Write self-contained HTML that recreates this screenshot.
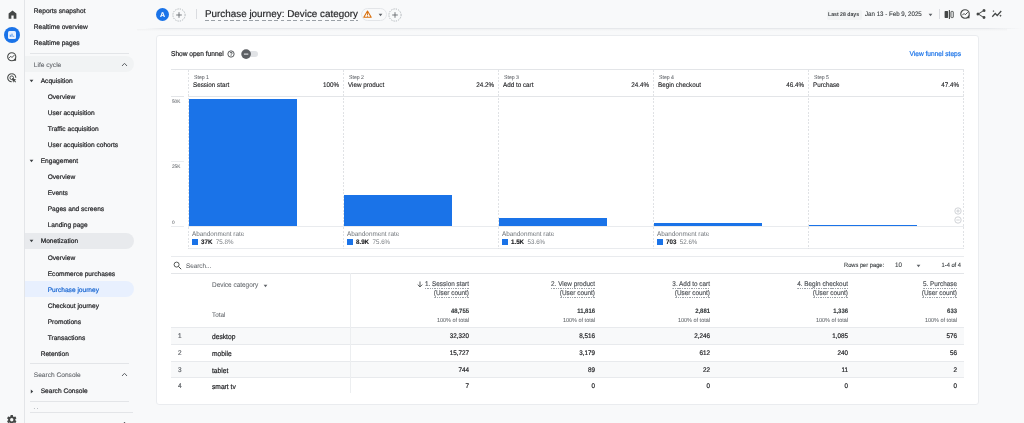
<!DOCTYPE html>
<html lang="en">
<head>
<meta charset="utf-8">
<title>Purchase journey: Device category</title>
<style>
*{box-sizing:border-box;margin:0;padding:0}
html,body{width:1024px;height:423px;overflow:hidden;background:#f8f9fa}
body{position:relative;font-family:"Liberation Sans",sans-serif;color:#202124}
.a{position:absolute}
.t{position:absolute;white-space:nowrap;line-height:12px;height:12px;font-size:6.6px;color:#202124;text-rendering:geometricPrecision;transform:scaleX(0.94);transform-origin:0 50%;-webkit-text-stroke:0.12px}
.r{text-align:right;transform-origin:100% 50%}
.n{transform:none}
#rail{left:0;top:0;width:25px;height:423px;background:#f8f9fa;border-right:1px solid #e3e5e8}
.nav{font-size:6.6px;color:#202124;-webkit-text-stroke:0.2px;transform:none}
.sec{color:#5f6368;-webkit-text-stroke:0.080px}
.pill{position:absolute;left:25px;width:109px;height:16px;border-radius:0 8px 8px 0}
.hr{position:absolute;height:1px;background:#e3e5e8}
.vr{position:absolute;width:1px;background:#e3e5e8}
#card{left:156px;top:35px;width:823px;height:370px;background:#fff;border:1px solid #eaecef;border-radius:3px}
.bar{position:absolute;background:#1a73e8}
.dv{position:absolute;width:1px;background:repeating-linear-gradient(180deg,#e0e2e5 0,#e0e2e5 2px,transparent 2px,transparent 3.500px)}
.g{color:#5f6368;-webkit-text-stroke:0.050px}
.b{font-weight:bold}
.h{color:#4d5156;-webkit-text-stroke:0.150px}
.u{background:repeating-linear-gradient(90deg,#9aa0a6 0,#9aa0a6 1.500px,transparent 1.500px,transparent 2.500px) 0 100%/100% 1px no-repeat;padding-bottom:1.500px}
</style>
</head>
<body>
<div id="root" style="position:absolute;left:0;top:0;width:1024px;height:423px;will-change:transform">
<!-- RAIL -->
<div id="rail" class="a"></div>
<svg class="a" style="left:6.500px;top:8.500px" width="11" height="11" viewBox="0 0 24 24"><path d="M3.500 21V9.800l8.500-6.800 8.500 6.800V21h-6v-7h-5v7z" fill="#444746"/></svg>
<div class="a" style="left:4px;top:27px;width:16px;height:16px;border-radius:50%;background:#1a73e8"></div>
<div class="a" style="left:8px;top:31px;width:8px;height:8px;border-radius:1.500px;background:#e8f0fe"></div>
<svg class="a" style="left:8px;top:31px" width="8" height="8" viewBox="0 0 9 9"><path d="M2.600 4.200v2.300M4.500 3v3.500M6.400 5.400v1.100" stroke="#1a73e8" stroke-width="0.900" fill="none"/></svg>
<svg class="a" style="left:6.250px;top:51.250px" width="11.500" height="11.500" viewBox="0 0 24 24"><circle cx="12" cy="12" r="8.500" fill="none" stroke="#444746" stroke-width="2.200"/><path d="M6.500 14.500l3.500-3.500 2.500 2.500 5-5" fill="none" stroke="#444746" stroke-width="2"/><path d="M14 20.500h7v-7z" fill="#444746"/></svg>
<svg class="a" style="left:6.250px;top:72.450px" width="11.500" height="11.500" viewBox="0 0 24 24"><path d="M12 3.500a8.500 8.500 0 1 0 0 17" fill="none" stroke="#444746" stroke-width="2.200"/><path d="M12 3.500a8.500 8.500 0 0 1 8.500 8.500" fill="none" stroke="#444746" stroke-width="2.200"/><circle cx="12" cy="12" r="3.800" fill="none" stroke="#444746" stroke-width="2"/><path d="M12.500 12.500l9 3.500-3.500 1.500 3 3-1.500 1.500-3-3-1.500 3.500z" fill="#444746"/></svg>
<svg class="a" style="left:6.350px;top:413.650px" width="11.500" height="11.500" viewBox="0 0 24 24"><path d="M19.400 13c.04-.3.06-.66.060-1s-.02-.7-.07-1l2.100-1.650a.5.500 0 0 0 .12-.64l-2-3.460a.5.500 0 0 0-.61-.22l-2.490 1a7.300 7.300 0 0 0-1.690-.98l-.38-2.650A.49.490 0 0 0 14 2h-4a.49.490 0 0 0-.49.420l-.38 2.650c-.61.250-1.170.59-1.690.98l-2.490-1a.5.500 0 0 0-.61.220l-2 3.460a.49.490 0 0 0 .12.640L4.570 11c-.04.300-.07.650-.07 1s.3.700.07 1l-2.110 1.650a.5.500 0 0 0-.12.640l2 3.460c.12.220.39.300.61.220l2.490-1c.52.400 1.080.73 1.690.98l.38 2.650c.3.240.24.420.49.420h4c.25 0 .46-.18.490-.42l.38-2.650c.61-.25 1.170-.59 1.690-.98l2.490 1c.23.090.49 0 .61-.22l2-3.460a.5.500 0 0 0-.12-.64zM12 15.500A3.500 3.500 0 1 1 12 8.500a3.500 3.500 0 0 1 0 7z" fill="#444746"/></svg>
<!-- SIDEBAR -->
<div class="pill" style="top:56px;background:#f1f3f4"></div>
<div class="pill" style="top:233px;background:#e8eaed"></div>
<div class="pill" style="top:281px;background:#e8f0fe"></div>
<div class="hr" style="left:30px;top:53px;width:99px"></div>
<div class="hr" style="left:30px;top:363px;width:99px"></div>
<div class="hr" style="left:30px;top:401px;width:99px"></div>
<div class="hr" style="left:30px;top:412px;width:103px"></div>
<div class="t nav" style="left:33.8px;top:6px">Reports snapshot</div>
<div class="t nav" style="left:33.8px;top:22px">Realtime overview</div>
<div class="t nav" style="left:33.8px;top:38px">Realtime pages</div>
<div class="t nav sec" style="left:33.8px;top:60px">Life cycle</div>
<div class="t nav" style="left:40.7px;top:76px">Acquisition</div>
<div class="t nav" style="left:47.7px;top:92px">Overview</div>
<div class="t nav" style="left:47.7px;top:108px">User acquisition</div>
<div class="t nav" style="left:47.7px;top:124px">Traffic acquisition</div>
<div class="t nav" style="left:47.7px;top:140px">User acquisition cohorts</div>
<div class="t nav" style="left:40.7px;top:156px">Engagement</div>
<div class="t nav" style="left:47.7px;top:172px">Overview</div>
<div class="t nav" style="left:47.7px;top:188px">Events</div>
<div class="t nav" style="left:47.7px;top:204px">Pages and screens</div>
<div class="t nav" style="left:47.7px;top:220px">Landing page</div>
<div class="t nav" style="left:40.7px;top:236px">Monetization</div>
<div class="t nav" style="left:47.7px;top:253px">Overview</div>
<div class="t nav" style="left:47.7px;top:269px">Ecommerce purchases</div>
<div class="t nav" style="left:47.7px;top:285px;color:#1967d2">Purchase journey</div>
<div class="t nav" style="left:47.7px;top:301px">Checkout journey</div>
<div class="t nav" style="left:47.7px;top:317px">Promotions</div>
<div class="t nav" style="left:47.7px;top:333px">Transactions</div>
<div class="t nav" style="left:40.7px;top:349px">Retention</div>
<div class="t nav sec" style="left:33.8px;top:370px">Search Console</div>
<div class="t nav" style="left:40.7px;top:386px">Search Console</div>
<svg class="a" style="left:29px;top:79px" width="5" height="4" viewBox="0 0 5 4"><path d="M0.600 0.800h3.800L2.500 3.200z" fill="#3c4043"/></svg>
<svg class="a" style="left:29px;top:159px" width="5" height="4" viewBox="0 0 5 4"><path d="M0.600 0.800h3.800L2.500 3.200z" fill="#3c4043"/></svg>
<svg class="a" style="left:29px;top:239px" width="5" height="4" viewBox="0 0 5 4"><path d="M0.600 0.800h3.800L2.500 3.200z" fill="#3c4043"/></svg>
<svg class="a" style="left:30px;top:388.500px" width="4" height="5" viewBox="0 0 4 5"><path d="M0.800 0.600v3.800L3.200 2.500z" fill="#3c4043"/></svg>
<svg class="a" style="left:121px;top:62px" width="7" height="5" viewBox="0 0 7 5"><path d="M1 4L3.500 1.300L6 4" fill="none" stroke="#5f6368" stroke-width="1"/></svg>
<svg class="a" style="left:121px;top:372px" width="7" height="5" viewBox="0 0 7 5"><path d="M1 4L3.500 1.300L6 4" fill="none" stroke="#5f6368" stroke-width="1"/></svg>
<div class="t sec n" style="left:33.500px;top:402px;font-size:6px;color:#a4a9ae;-webkit-text-stroke:0.200px">. .</div>
<svg class="a" style="left:120.500px;top:420.500px" width="7" height="5" viewBox="0 0 7 5"><path d="M1 4L3.500 1.300L6 4" fill="none" stroke="#3c4043" stroke-width="1"/></svg>
<!-- HEADER -->
<div class="hr" style="left:145px;top:28px;width:877px;background:linear-gradient(90deg,rgba(230,232,235,0) 0,#e6e8eb 2%,#e6e8eb 96%,rgba(230,232,235,0) 100%)"></div>
<div class="a" style="left:137px;top:29px;width:870px;height:2px;background:linear-gradient(180deg,rgba(60,64,67,.045),rgba(60,64,67,0))"></div>
<div class="a" style="left:156px;top:8px;width:13px;height:13px;border-radius:50%;background:#1a73e8"></div>
<div class="t b n" style="left:156px;top:9.500px;width:13px;text-align:center;color:#fff;font-size:7px">A</div>
<svg class="a" style="left:171.8px;top:7.5px" width="14" height="14" viewBox="0 0 14 14"><circle cx="7" cy="7" r="6.100" fill="none" stroke="#9aa0a6" stroke-width="0.750" stroke-dasharray="1.300 1.100"/><path d="M7 4.200v5.600M4.200 7h5.600" stroke="#5f6368" stroke-width="0.850"/></svg>
<div class="vr" style="left:196px;top:9px;height:10px;background:#dadce0"></div>
<div class="t n" id="ttl" style="left:205px;top:8px;height:14px;line-height:14px;font-size:9.870px;color:#202124;-webkit-text-stroke:0.150px">Purchase journey: Device category</div>
<div class="a" style="left:205px;top:20px;width:153px;height:1px;background:repeating-linear-gradient(90deg,#9aa0a6 0,#9aa0a6 3.800px,transparent 3.800px,transparent 6.300px)"></div>
<div class="a" style="left:361px;top:8px;width:26px;height:13px;border-radius:6.500px;border:1px solid #e3e5e8;background:#f8f9fa"></div>
<svg class="a" style="left:363px;top:10px" width="9" height="8" viewBox="0 0 9 8"><path d="M4.500 1L8.200 7.300H0.800z" fill="none" stroke="#d9700d" stroke-width="1.100" stroke-linejoin="round"/><path d="M4.500 3.200v2.100M4.500 5.900v0.800" stroke="#d9700d" stroke-width="1"/></svg>
<svg class="a" style="left:377.5px;top:13px" width="5" height="4" viewBox="0 0 5 4"><path d="M0.600 0.800h3.800L2.500 3.200z" fill="#5f6368"/></svg>
<svg class="a" style="left:388px;top:7.5px" width="14" height="14" viewBox="0 0 14 14"><circle cx="7" cy="7" r="6.100" fill="none" stroke="#9aa0a6" stroke-width="0.750" stroke-dasharray="1.300 1.100"/><path d="M7 4.200v5.600M4.200 7h5.600" stroke="#5f6368" stroke-width="0.850"/></svg>
<div class="a" style="left:826.500px;top:9.500px;width:35px;height:10px;border-radius:2px;background:#f1f3f4"></div>
<div class="t b" style="left:828px;top:8.5px;font-size:5.5px;color:#3c4043;-webkit-text-stroke:0">Last 28 days</div>
<div class="t" style="left:865px;top:8.5px;font-size:6.56px;color:#3c4043">Jan 13 - Feb 9, 2025</div>
<svg class="a" style="left:928px;top:13px" width="5" height="4" viewBox="0 0 5 4"><path d="M0.600 0.800h3.800L2.500 3.200z" fill="#5f6368"/></svg>
<div class="vr" style="left:939px;top:9px;height:10px;background:#dadce0"></div>
<svg class="a" style="left:944px;top:9px" width="11" height="11" viewBox="0 0 11 11"><rect x="0.600" y="2" width="3.500" height="7" rx="0.700" fill="#444746"/><rect x="6.950" y="2.450" width="2.300" height="6.100" rx="0.500" fill="none" stroke="#444746" stroke-width="0.900"/><path d="M5.400 1v9" stroke="#444746" stroke-width="1.100"/></svg>
<svg class="a" style="left:959px;top:8px" width="12" height="12" viewBox="0 0 24 24"><circle cx="12" cy="12" r="8.500" fill="none" stroke="#444746" stroke-width="2.200"/><path d="M6.500 14.500l3.500-3.500 2.500 2.500 5-5" fill="none" stroke="#444746" stroke-width="2"/><path d="M14 20.500h7v-7z" fill="#444746"/></svg>
<svg class="a" style="left:975px;top:8px" width="12" height="12" viewBox="0 0 24 24"><path d="M18 16.080c-.76 0-1.440.3-1.960.77L8.910 12.700c.05-.23.090-.46.090-.7s-.04-.47-.09-.7l7.050-4.110c.54.500 1.250.81 2.040.81a3 3 0 1 0-3-3c0 .24.040.47.090.7L8.040 9.810A3 3 0 0 0 6 9a3 3 0 1 0 0 6c.79 0 1.500-.31 2.040-.81l7.120 4.160c-.05.210-.08.430-.08.650a2.920 2.920 0 1 0 2.920-2.920z" fill="#444746"/></svg>
<svg class="a" style="left:991px;top:8px" width="12" height="12" viewBox="0 0 24 24"><path d="M2.500 17.500l6-6.500 4 4 8-9" fill="none" stroke="#444746" stroke-width="2.500"/><path d="M19 13l.8 1.700 1.700.8-1.700.8-.8 1.700-.8-1.700-1.700-.8 1.700-.8zM5 4l.7 1.500 1.500.7-1.500.7L5 8.400l-.7-1.500-1.500-.7 1.500-.7z" fill="#444746"/></svg>
<!-- CARD -->
<div id="card" class="a"></div>
<!-- FUNNEL -->
<div class="t" style="left:171px;top:48.8px;font-size:7.0px;-webkit-text-stroke:0.200px">Show open funnel</div>
<svg class="a" style="left:226.500px;top:50px" width="8" height="8" viewBox="0 0 8 8"><circle cx="4" cy="4" r="3.150" fill="none" stroke="#3c4043" stroke-width="0.850"/><text x="4" y="5.900" font-size="5.300" text-anchor="middle" fill="#3c4043" font-family="Liberation Sans, sans-serif" font-weight="bold">?</text></svg>
<div class="a" style="left:243px;top:51.300px;width:14.700px;height:5.600px;border-radius:3px;background:#e1e3e6"></div>
<svg class="a" style="left:240px;top:48px" width="13" height="13" viewBox="0 0 13 13"><circle cx="6.100" cy="6.100" r="4.850" fill="#5c5f63"/><path d="M3.900 6.100h4.400" stroke="#e8eaed" stroke-width="1.100"/></svg>
<div class="t r" style="left:821px;width:140px;top:48.8px;font-size:7.0px;color:#1a73e8;-webkit-text-stroke:0.200px">View funnel steps</div>
<div class="hr" style="left:171px;top:69px;width:793px;background:#e3e5e8"></div>
<div class="hr" style="left:171px;top:96px;width:793px;background:#e3e5e8"></div>
<div class="hr" style="left:171px;top:226px;width:793px;background:#e9ebee"></div>
<div class="a" style="left:184px;top:226px;width:4px;height:1px;background:#fff"></div>
<div class="hr" style="left:171px;top:161px;width:13px;background:#eceef0"></div>
<div class="a" style="left:184px;top:96px;width:4px;height:1px;background:#fff"></div>
<div class="hr" style="left:189px;top:248px;width:775px;background:#e9ebee"></div>
<div class="dv" style="left:188px;top:70px;height:179px"></div>
<div class="dv" style="left:343px;top:70px;height:179px"></div>
<div class="dv" style="left:498px;top:70px;height:179px"></div>
<div class="dv" style="left:653px;top:70px;height:179px"></div>
<div class="dv" style="left:808px;top:70px;height:179px"></div>
<div class="dv" style="left:963px;top:70px;height:179px"></div>
<div class="t g" style="left:193.7px;top:72px;font-size:5.5px;">Step 1</div>
<div class="t" style="left:193.4px;top:80px;font-size:6.7px;">Session start</div>
<div class="t r" style="left:199.3px;width:140px;top:80px;font-size:6.7px;">100%</div>
<div class="bar" style="left:189px;top:99px;width:108px;height:127px"></div>
<div class="t" style="left:192px;top:229px;font-size:6.75px;color:#6e7378;-webkit-text-stroke:0">Abandonment rate</div>
<div class="a" style="left:192px;top:239px;width:6px;height:6px;background:#1a73e8"></div>
<div class="t" style="left:201px;top:236.5px;font-size:6.6px;"><b>37K</b> <span style="color:#73787d;-webkit-text-stroke:0">&nbsp;75.8%</span></div>
<div class="t g" style="left:348.7px;top:72px;font-size:5.5px;">Step 2</div>
<div class="t" style="left:348.4px;top:80px;font-size:6.7px;">View product</div>
<div class="t r" style="left:354.3px;width:140px;top:80px;font-size:6.7px;">24.2%</div>
<div class="bar" style="left:344px;top:195px;width:108px;height:31px"></div>
<div class="t" style="left:347px;top:229px;font-size:6.75px;color:#6e7378;-webkit-text-stroke:0">Abandonment rate</div>
<div class="a" style="left:347px;top:239px;width:6px;height:6px;background:#1a73e8"></div>
<div class="t" style="left:356px;top:236.5px;font-size:6.6px;"><b>8.9K</b> <span style="color:#73787d;-webkit-text-stroke:0">&nbsp;75.6%</span></div>
<div class="t g" style="left:503.7px;top:72px;font-size:5.5px;">Step 3</div>
<div class="t" style="left:503.4px;top:80px;font-size:6.7px;">Add to cart</div>
<div class="t r" style="left:509.29999999999995px;width:140px;top:80px;font-size:6.7px;">24.4%</div>
<div class="bar" style="left:499px;top:218px;width:108px;height:8px"></div>
<div class="t" style="left:502px;top:229px;font-size:6.75px;color:#6e7378;-webkit-text-stroke:0">Abandonment rate</div>
<div class="a" style="left:502px;top:239px;width:6px;height:6px;background:#1a73e8"></div>
<div class="t" style="left:511px;top:236.5px;font-size:6.6px;"><b>1.5K</b> <span style="color:#73787d;-webkit-text-stroke:0">&nbsp;53.6%</span></div>
<div class="t g" style="left:658.7px;top:72px;font-size:5.5px;">Step 4</div>
<div class="t" style="left:658.4px;top:80px;font-size:6.7px;">Begin checkout</div>
<div class="t r" style="left:664.3px;width:140px;top:80px;font-size:6.7px;">46.4%</div>
<div class="bar" style="left:654px;top:223px;width:108px;height:3px"></div>
<div class="t" style="left:657px;top:229px;font-size:6.75px;color:#6e7378;-webkit-text-stroke:0">Abandonment rate</div>
<div class="a" style="left:657px;top:239px;width:6px;height:6px;background:#1a73e8"></div>
<div class="t" style="left:666px;top:236.5px;font-size:6.6px;"><b>703</b> <span style="color:#73787d;-webkit-text-stroke:0">&nbsp;52.6%</span></div>
<div class="t g" style="left:813.7px;top:72px;font-size:5.5px;">Step 5</div>
<div class="t" style="left:813.4px;top:80px;font-size:6.7px;">Purchase</div>
<div class="t r" style="left:819.3px;width:140px;top:80px;font-size:6.7px;">47.4%</div>
<div class="bar" style="left:809px;top:225px;width:108px;height:1px"></div>
<div class="t g" style="left:172px;top:96px;font-size:5.0px;">50K</div>
<div class="t g" style="left:172px;top:160.5px;font-size:5.0px;">25K</div>
<div class="t g" style="left:172px;top:217px;font-size:5.0px;">0</div>
<svg class="a" style="left:954px;top:207px" width="8" height="8" viewBox="0 0 8 8"><circle cx="4" cy="4" r="3.200" fill="none" stroke="#bdc1c6" stroke-width="0.700"/><path d="M2.300 4h3.400M4 2.300v3.400" stroke="#bdc1c6" stroke-width="0.700"/></svg>
<svg class="a" style="left:954px;top:216px" width="8" height="8" viewBox="0 0 8 8"><circle cx="4" cy="4" r="3.200" fill="none" stroke="#bdc1c6" stroke-width="0.700"/><path d="M2.300 4h3.400" stroke="#bdc1c6" stroke-width="0.700"/></svg>
<!-- TABLE -->
<div class="hr" style="left:171px;top:256px;width:793px;background:#e9ebee"></div>
<div class="hr" style="left:171px;top:273px;width:793px"></div>
<svg class="a" style="left:173px;top:261px" width="9" height="9" viewBox="0 0 9 9"><circle cx="3.600" cy="3.600" r="2.500" fill="none" stroke="#444746" stroke-width="0.900"/><path d="M5.500 5.500L8.200 8.200" stroke="#444746" stroke-width="1"/></svg>
<div class="t g" style="left:186px;top:261.3px;font-size:6.7px;">Search...</div>
<div class="t" style="left:844px;top:260px;font-size:6.1px;color:#3c4043">Rows per page:</div>
<div class="t" style="left:895px;top:260px;font-size:6.6px;color:#3c4043">10</div>
<svg class="a" style="left:916px;top:264px" width="5" height="4" viewBox="0 0 5 4"><path d="M0.600 0.800h3.800L2.500 3.200z" fill="#5f6368"/></svg>
<div class="t r" style="left:821px;width:140px;top:260px;font-size:6.1px;color:#3c4043">1-4 of 4</div>
<div class="a" style="left:171px;top:328px;width:793px;height:16px;background:#f8f9fa"></div>
<div class="a" style="left:171px;top:362px;width:793px;height:15px;background:#f8f9fa"></div>
<div class="hr" style="left:171px;top:327px;width:793px;background:#e8eaed"></div>
<div class="hr" style="left:171px;top:344px;width:793px;background:#e8eaed"></div>
<div class="hr" style="left:171px;top:361px;width:793px;background:#e8eaed"></div>
<div class="hr" style="left:171px;top:377px;width:793px;background:#e8eaed"></div>
<div class="vr" style="left:350px;top:273px;height:120px;background:#eceef0"></div>
<div class="t g" style="left:212px;top:280.4px;font-size:6.85px;">Device category</div>
<svg class="a" style="left:263px;top:283.5px" width="5" height="4" viewBox="0 0 5 4"><path d="M0.600 0.800h3.800L2.500 3.200z" fill="#5f6368"/></svg>
<svg class="a" style="left:417px;top:280.500px" width="6" height="7" viewBox="0 0 6 7"><path d="M3 0.500v5.300M0.700 3.600L3 5.900L5.300 3.600" fill="none" stroke="#3c4043" stroke-width="0.850"/></svg>
<div class="t h r" style="left:329px;width:140px;top:279.2px;font-size:6.8px;"><span class="u" style="padding-bottom:0.500px">1. Session start</span></div>
<div class="t h r" style="left:329px;width:140px;top:287.5px;font-size:6.8px;"><span class="u">(User count)</span></div>
<div class="t b r" style="left:329px;width:140px;top:306.3px;font-size:6.3px;color:#3c4043">48,755</div>
<div class="t g r" style="left:329px;width:140px;top:314.6px;font-size:5.85px;">100% of total</div>
<div class="t r" style="left:329px;width:140px;top:331px;font-size:6.7px;-webkit-text-stroke:0.200px">32,320</div>
<div class="t r" style="left:329px;width:140px;top:347.6px;font-size:6.7px;-webkit-text-stroke:0.200px">15,727</div>
<div class="t r" style="left:329px;width:140px;top:365px;font-size:6.7px;-webkit-text-stroke:0.200px">744</div>
<div class="t r" style="left:329px;width:140px;top:380.7px;font-size:6.7px;-webkit-text-stroke:0.200px">7</div>
<div class="t h r" style="left:455px;width:140px;top:279.2px;font-size:6.8px;"><span class="u" style="padding-bottom:0.500px">2. View product</span></div>
<div class="t h r" style="left:455px;width:140px;top:287.5px;font-size:6.8px;"><span class="u">(User count)</span></div>
<div class="t b r" style="left:455px;width:140px;top:306.3px;font-size:6.3px;color:#3c4043">11,816</div>
<div class="t g r" style="left:455px;width:140px;top:314.6px;font-size:5.85px;">100% of total</div>
<div class="t r" style="left:455px;width:140px;top:331px;font-size:6.7px;-webkit-text-stroke:0.200px">8,516</div>
<div class="t r" style="left:455px;width:140px;top:347.6px;font-size:6.7px;-webkit-text-stroke:0.200px">3,179</div>
<div class="t r" style="left:455px;width:140px;top:365px;font-size:6.7px;-webkit-text-stroke:0.200px">89</div>
<div class="t r" style="left:455px;width:140px;top:380.7px;font-size:6.7px;-webkit-text-stroke:0.200px">0</div>
<div class="t h r" style="left:570px;width:140px;top:279.2px;font-size:6.8px;"><span class="u" style="padding-bottom:0.500px">3. Add to cart</span></div>
<div class="t h r" style="left:570px;width:140px;top:287.5px;font-size:6.8px;"><span class="u">(User count)</span></div>
<div class="t b r" style="left:570px;width:140px;top:306.3px;font-size:6.3px;color:#3c4043">2,881</div>
<div class="t g r" style="left:570px;width:140px;top:314.6px;font-size:5.85px;">100% of total</div>
<div class="t r" style="left:570px;width:140px;top:331px;font-size:6.7px;-webkit-text-stroke:0.200px">2,246</div>
<div class="t r" style="left:570px;width:140px;top:347.6px;font-size:6.7px;-webkit-text-stroke:0.200px">612</div>
<div class="t r" style="left:570px;width:140px;top:365px;font-size:6.7px;-webkit-text-stroke:0.200px">22</div>
<div class="t r" style="left:570px;width:140px;top:380.7px;font-size:6.7px;-webkit-text-stroke:0.200px">0</div>
<div class="t h r" style="left:708px;width:140px;top:279.2px;font-size:6.8px;"><span class="u" style="padding-bottom:0.500px">4. Begin checkout</span></div>
<div class="t h r" style="left:708px;width:140px;top:287.5px;font-size:6.8px;"><span class="u">(User count)</span></div>
<div class="t b r" style="left:708px;width:140px;top:306.3px;font-size:6.3px;color:#3c4043">1,336</div>
<div class="t g r" style="left:708px;width:140px;top:314.6px;font-size:5.85px;">100% of total</div>
<div class="t r" style="left:708px;width:140px;top:331px;font-size:6.7px;-webkit-text-stroke:0.200px">1,085</div>
<div class="t r" style="left:708px;width:140px;top:347.6px;font-size:6.7px;-webkit-text-stroke:0.200px">240</div>
<div class="t r" style="left:708px;width:140px;top:365px;font-size:6.7px;-webkit-text-stroke:0.200px">11</div>
<div class="t r" style="left:708px;width:140px;top:380.7px;font-size:6.7px;-webkit-text-stroke:0.200px">0</div>
<div class="t h r" style="left:817px;width:140px;top:279.2px;font-size:6.8px;"><span class="u" style="padding-bottom:0.500px">5. Purchase</span></div>
<div class="t h r" style="left:817px;width:140px;top:287.5px;font-size:6.8px;"><span class="u">(User count)</span></div>
<div class="t b r" style="left:817px;width:140px;top:306.3px;font-size:6.3px;color:#3c4043">633</div>
<div class="t g r" style="left:817px;width:140px;top:314.6px;font-size:5.85px;">100% of total</div>
<div class="t r" style="left:817px;width:140px;top:331px;font-size:6.7px;-webkit-text-stroke:0.200px">576</div>
<div class="t r" style="left:817px;width:140px;top:347.6px;font-size:6.7px;-webkit-text-stroke:0.200px">56</div>
<div class="t r" style="left:817px;width:140px;top:365px;font-size:6.7px;-webkit-text-stroke:0.200px">2</div>
<div class="t r" style="left:817px;width:140px;top:380.7px;font-size:6.7px;-webkit-text-stroke:0.200px">0</div>
<div class="t g" style="left:212px;top:309.7px;font-size:6.7px;">Total</div>
<div class="t g" style="left:178px;top:331px;font-size:6.8px;-webkit-text-stroke:0.200px">1</div>
<div class="t" style="left:212px;top:331px;font-size:7.1px;-webkit-text-stroke:0.200px">desktop</div>
<div class="t g" style="left:178px;top:347.6px;font-size:6.8px;-webkit-text-stroke:0.200px">2</div>
<div class="t" style="left:212px;top:347.6px;font-size:7.1px;-webkit-text-stroke:0.200px">mobile</div>
<div class="t g" style="left:178px;top:365px;font-size:6.8px;-webkit-text-stroke:0.200px">3</div>
<div class="t" style="left:212px;top:365px;font-size:7.1px;-webkit-text-stroke:0.200px">tablet</div>
<div class="t g" style="left:178px;top:380.7px;font-size:6.8px;-webkit-text-stroke:0.200px">4</div>
<div class="t" style="left:212px;top:380.7px;font-size:7.1px;-webkit-text-stroke:0.200px">smart tv</div>
</div>
</body>
</html>
